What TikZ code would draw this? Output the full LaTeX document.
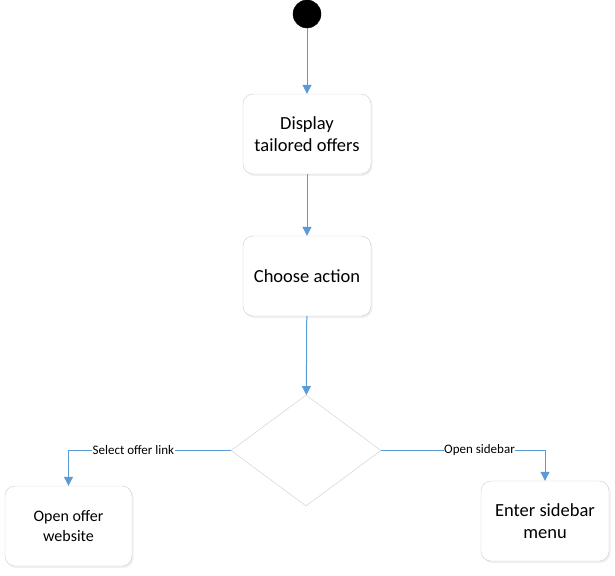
\documentclass[tikz,border=0pt]{standalone}
\usepackage{fontspec}
\setmainfont{Carlito}
\usetikzlibrary{arrows.meta,shapes.geometric,shadows}
\definecolor{flowblue}{HTML}{5B9BD5}
\definecolor{boxgrey}{HTML}{CDCDCD}
\tikzset{
  state/.style={draw=boxgrey, fill=white, rounded corners=10pt, minimum width=128pt, minimum height=80pt, align=center, font=\fontsize{18.5}{21.5}\selectfont, drop shadow={opacity=0.12, shadow xshift=1.5pt, shadow yshift=-2pt}},
  flow/.style={draw=flowblue, line width=1pt, -{Triangle[width=9pt,length=9pt]}},
  guard/.style={fill=white, inner sep=0.5pt, font=\fontsize{13}{15}\selectfont}
}
\begin{document}
\begin{tikzpicture}[x=1pt,y=-1pt]
\useasboundingbox (0,0) rectangle (615,575);
\node[draw, circle, fill=black, minimum size=28pt, inner sep=0pt] (start) at (307,14) {};
\node[state] (display) at (307,134) {Display\\tailored offers};
\node[state] (choose) at (307,276) {Choose action};
\node[draw=boxgrey, fill=white, diamond, minimum width=150pt, minimum height=111pt, inner sep=0pt] (decision) at (306,450.5) {};
\node[state, minimum width=127pt, font=\fontsize{16}{19.5}\selectfont] (website) at (68.5,526) {Open offer\\website};
\node[state] (sidebar) at (545,521) {Enter sidebar\\menu};
\path[flow] (start) -- (display);
\path[flow] (display) -- (choose);
\path[flow] (choose) -- (decision);
\path[flow] (decision.west) -| node[guard, pos=0.3] {Select offer link} (website);
\path[flow] (decision.east) -| node[guard, pos=0.3] {Open sidebar} (sidebar);
\end{tikzpicture}
\end{document}
